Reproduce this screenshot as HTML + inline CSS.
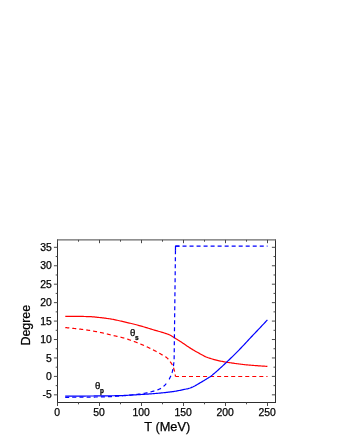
<!DOCTYPE html>
<html><head><meta charset="utf-8">
<style>
html,body{margin:0;padding:0;background:#fff;}
body{width:340px;height:440px;overflow:hidden;font-family:"Liberation Sans",sans-serif;}
svg{display:block;will-change:transform;}
text{font-family:"Liberation Sans",sans-serif;fill:#000;stroke:#000;stroke-width:0.25px;}
</style></head><body>
<svg width="340" height="440" viewBox="0 0 340 440">
<rect width="340" height="440" fill="#fff"/>
<g stroke="#2e2e2e" stroke-width="1" fill="none">
<line x1="57.5" y1="239.4" x2="57.5" y2="403.0"/>
<line x1="275.5" y1="239.4" x2="275.5" y2="403.0"/>
<line x1="57.0" y1="402.5" x2="276.0" y2="402.5"/>
<line x1="57.0" y1="239.9" x2="276.0" y2="239.9" stroke="#6a6a6a" stroke-width="1.4"/>
</g>
<g stroke="#4a4a4a" stroke-width="1">
<line x1="57.5" y1="402.5" x2="57.5" y2="406.0"/>
<line x1="57.5" y1="239.9" x2="57.5" y2="243.20000000000002"/>
<line x1="78.5" y1="402.5" x2="78.5" y2="404.3"/>
<line x1="78.5" y1="239.9" x2="78.5" y2="241.70000000000002"/>
<line x1="99.5" y1="402.5" x2="99.5" y2="406.0"/>
<line x1="99.5" y1="239.9" x2="99.5" y2="243.20000000000002"/>
<line x1="120.5" y1="402.5" x2="120.5" y2="404.3"/>
<line x1="120.5" y1="239.9" x2="120.5" y2="241.70000000000002"/>
<line x1="141.5" y1="402.5" x2="141.5" y2="406.0"/>
<line x1="141.5" y1="239.9" x2="141.5" y2="243.20000000000002"/>
<line x1="162.5" y1="402.5" x2="162.5" y2="404.3"/>
<line x1="162.5" y1="239.9" x2="162.5" y2="241.70000000000002"/>
<line x1="183.5" y1="402.5" x2="183.5" y2="406.0"/>
<line x1="183.5" y1="239.9" x2="183.5" y2="243.20000000000002"/>
<line x1="204.5" y1="402.5" x2="204.5" y2="404.3"/>
<line x1="204.5" y1="239.9" x2="204.5" y2="241.70000000000002"/>
<line x1="225.5" y1="402.5" x2="225.5" y2="406.0"/>
<line x1="225.5" y1="239.9" x2="225.5" y2="243.20000000000002"/>
<line x1="246.5" y1="402.5" x2="246.5" y2="404.3"/>
<line x1="246.5" y1="239.9" x2="246.5" y2="241.70000000000002"/>
<line x1="267.5" y1="402.5" x2="267.5" y2="406.0"/>
<line x1="267.5" y1="239.9" x2="267.5" y2="243.20000000000002"/>
<line x1="53.9" y1="394.84" x2="57.5" y2="394.84"/>
<line x1="271.9" y1="394.84" x2="275.5" y2="394.84"/>
<line x1="55.7" y1="385.62" x2="57.5" y2="385.62"/>
<line x1="273.5" y1="385.62" x2="275.5" y2="385.62"/>
<line x1="53.9" y1="376.4" x2="57.5" y2="376.4"/>
<line x1="271.9" y1="376.4" x2="275.5" y2="376.4"/>
<line x1="55.7" y1="367.18" x2="57.5" y2="367.18"/>
<line x1="273.5" y1="367.18" x2="275.5" y2="367.18"/>
<line x1="53.9" y1="357.96" x2="57.5" y2="357.96"/>
<line x1="271.9" y1="357.96" x2="275.5" y2="357.96"/>
<line x1="55.7" y1="348.74" x2="57.5" y2="348.74"/>
<line x1="273.5" y1="348.74" x2="275.5" y2="348.74"/>
<line x1="53.9" y1="339.52" x2="57.5" y2="339.52"/>
<line x1="271.9" y1="339.52" x2="275.5" y2="339.52"/>
<line x1="55.7" y1="330.3" x2="57.5" y2="330.3"/>
<line x1="273.5" y1="330.3" x2="275.5" y2="330.3"/>
<line x1="53.9" y1="321.08" x2="57.5" y2="321.08"/>
<line x1="271.9" y1="321.08" x2="275.5" y2="321.08"/>
<line x1="55.7" y1="311.86" x2="57.5" y2="311.86"/>
<line x1="273.5" y1="311.86" x2="275.5" y2="311.86"/>
<line x1="53.9" y1="302.64" x2="57.5" y2="302.64"/>
<line x1="271.9" y1="302.64" x2="275.5" y2="302.64"/>
<line x1="55.7" y1="293.42" x2="57.5" y2="293.42"/>
<line x1="273.5" y1="293.42" x2="275.5" y2="293.42"/>
<line x1="53.9" y1="284.2" x2="57.5" y2="284.2"/>
<line x1="271.9" y1="284.2" x2="275.5" y2="284.2"/>
<line x1="55.7" y1="274.98" x2="57.5" y2="274.98"/>
<line x1="273.5" y1="274.98" x2="275.5" y2="274.98"/>
<line x1="53.9" y1="265.76" x2="57.5" y2="265.76"/>
<line x1="271.9" y1="265.76" x2="275.5" y2="265.76"/>
<line x1="55.7" y1="256.54" x2="57.5" y2="256.54"/>
<line x1="273.5" y1="256.54" x2="275.5" y2="256.54"/>
<line x1="53.9" y1="247.32" x2="57.5" y2="247.32"/>
<line x1="271.9" y1="247.32" x2="275.5" y2="247.32"/>
</g>
<g font-size="10.4">
<text x="57.1" y="416.2" text-anchor="middle">0</text>
<text x="99.1" y="416.2" text-anchor="middle">50</text>
<text x="141.1" y="416.2" text-anchor="middle">100</text>
<text x="183.1" y="416.2" text-anchor="middle">150</text>
<text x="225.1" y="416.2" text-anchor="middle">200</text>
<text x="267.1" y="416.2" text-anchor="middle">250</text>
<text x="51.8" y="398.39" text-anchor="end">-5</text>
<text x="51.8" y="379.95" text-anchor="end">0</text>
<text x="51.8" y="361.51" text-anchor="end">5</text>
<text x="51.8" y="343.07" text-anchor="end">10</text>
<text x="51.8" y="324.63" text-anchor="end">15</text>
<text x="51.8" y="306.19" text-anchor="end">20</text>
<text x="51.8" y="287.75" text-anchor="end">25</text>
<text x="51.8" y="269.31" text-anchor="end">30</text>
<text x="51.8" y="250.87" text-anchor="end">35</text>
</g>
<g fill="none" stroke-width="1.2" stroke-linejoin="round">
<path stroke="#f00" d="M65.30,316.30 L66.30,316.30 L67.30,316.30 L68.30,316.31 L69.30,316.31 L70.30,316.31 L71.30,316.32 L72.30,316.32 L73.30,316.33 L74.30,316.34 L75.30,316.34 L76.30,316.35 L77.30,316.36 L78.30,316.37 L79.30,316.38 L80.30,316.40 L81.30,316.42 L82.30,316.43 L83.30,316.45 L84.30,316.48 L85.30,316.50 L86.30,316.53 L87.30,316.55 L88.30,316.58 L89.30,316.62 L90.30,316.66 L91.30,316.72 L92.30,316.80 L93.30,316.88 L94.30,316.97 L95.30,317.07 L96.30,317.17 L97.30,317.28 L98.30,317.39 L99.30,317.50 L100.30,317.61 L101.30,317.72 L102.30,317.83 L103.30,317.95 L104.30,318.07 L105.30,318.20 L106.30,318.33 L107.30,318.47 L108.30,318.62 L109.30,318.77 L110.30,318.92 L111.30,319.08 L112.30,319.25 L113.30,319.43 L114.30,319.63 L115.30,319.83 L116.30,320.05 L117.30,320.27 L118.30,320.50 L119.30,320.73 L120.30,320.97 L121.30,321.20 L122.30,321.43 L123.30,321.66 L124.30,321.89 L125.30,322.12 L126.30,322.35 L127.30,322.58 L128.30,322.81 L129.30,323.05 L130.30,323.29 L131.30,323.53 L132.30,323.77 L133.30,324.02 L134.30,324.27 L135.30,324.52 L136.30,324.77 L137.30,325.03 L138.30,325.30 L139.30,325.57 L140.30,325.84 L141.30,326.13 L142.30,326.42 L143.30,326.71 L144.30,327.01 L145.30,327.31 L146.30,327.62 L147.30,327.93 L148.30,328.24 L149.30,328.55 L150.30,328.86 L151.30,329.16 L152.30,329.47 L153.30,329.77 L154.30,330.07 L155.30,330.37 L156.30,330.66 L157.30,330.94 L158.30,331.22 L159.30,331.50 L160.30,331.79 L161.30,332.08 L162.30,332.37 L163.30,332.68 L164.30,333.00 L165.30,333.32 L166.30,333.65 L167.30,334.00 L168.30,334.38 L169.30,334.80 L170.30,335.29 L171.30,335.85 L172.30,336.46 L173.30,337.09 L174.30,337.72 L175.30,338.32 L176.30,338.93 L177.30,339.55 L178.30,340.17 L179.30,340.79 L180.30,341.43 L181.30,342.07 L182.30,342.73 L183.30,343.41 L184.30,344.10 L185.30,344.80 L186.30,345.49 L187.30,346.17 L188.30,346.83 L189.30,347.48 L190.30,348.12 L191.30,348.75 L192.30,349.37 L193.30,349.98 L194.30,350.58 L195.30,351.16 L196.30,351.73 L197.30,352.29 L198.30,352.84 L199.30,353.38 L200.30,353.92 L201.30,354.46 L202.30,355.01 L203.30,355.56 L204.30,356.10 L205.30,356.59 L206.30,357.02 L207.30,357.42 L208.30,357.78 L209.30,358.11 L210.30,358.44 L211.30,358.75 L212.30,359.05 L213.30,359.34 L214.30,359.61 L215.30,359.87 L216.30,360.13 L217.30,360.38 L218.30,360.62 L219.30,360.84 L220.30,361.06 L221.30,361.26 L222.30,361.45 L223.30,361.64 L224.30,361.81 L225.30,361.99 L226.30,362.15 L227.30,362.31 L228.30,362.47 L229.30,362.62 L230.30,362.77 L231.30,362.92 L232.30,363.06 L233.30,363.20 L234.30,363.34 L235.30,363.48 L236.30,363.61 L237.30,363.74 L238.30,363.88 L239.30,364.01 L240.30,364.14 L241.30,364.26 L242.30,364.39 L243.30,364.51 L244.30,364.62 L245.30,364.73 L246.30,364.83 L247.30,364.93 L248.30,365.02 L249.30,365.11 L250.30,365.19 L251.30,365.27 L252.30,365.35 L253.30,365.43 L254.30,365.50 L255.30,365.58 L256.30,365.65 L257.30,365.72 L258.30,365.79 L259.30,365.86 L260.30,365.93 L261.30,365.99 L262.30,366.05 L263.30,366.12 L264.30,366.18 L265.30,366.23 L266.30,366.29 L267.30,366.34 L267.40,366.35"/>
<path stroke="#f00" stroke-dasharray="4,3.007" stroke-dashoffset="2" d="M175.50,376.50 L175.44,376.08 L175.38,375.65 L175.31,375.23 L175.24,374.80 L175.17,374.38 L175.09,373.96 L175.01,373.54 L174.92,373.12 L174.84,372.70 L174.75,372.28 L174.65,371.86 L174.55,371.45 L174.45,371.03 L174.35,370.61 L174.24,370.20 L174.13,369.79 L174.01,369.37 L173.89,368.96 L173.77,368.56 L173.64,368.14 L173.50,367.73 L173.37,367.32 L173.22,366.92 L173.07,366.52 L172.91,366.12 L172.74,365.72 L172.57,365.34 L172.38,364.96 L172.17,364.59 L171.95,364.23 L171.72,363.87 L171.47,363.51 L171.22,363.16 L170.97,362.81 L170.72,362.46 L170.47,362.11 L170.21,361.76 L169.96,361.41 L169.71,361.06 L169.45,360.71 L169.19,360.36 L168.93,360.01 L168.66,359.67 L168.39,359.34 L168.11,359.01 L167.82,358.70 L167.53,358.40 L167.22,358.11 L166.91,357.84 L166.58,357.58 L166.23,357.33 L165.88,357.09 L165.51,356.86 L165.14,356.63 L164.77,356.41 L164.40,356.19 L164.03,355.96 L163.67,355.73 L163.30,355.51 L162.94,355.29 L162.57,355.08 L162.20,354.86 L161.83,354.65 L161.45,354.43 L161.08,354.22 L160.71,354.01 L160.34,353.79 L159.97,353.58 L159.60,353.37 L159.22,353.15 L158.85,352.94 L158.48,352.73 L158.11,352.51 L157.74,352.30 L157.36,352.09 L156.99,351.88 L156.61,351.68 L156.24,351.47 L155.86,351.27 L155.48,351.07 L155.10,350.87 L154.72,350.68 L154.34,350.48 L153.96,350.28 L153.58,350.09 L153.20,349.89 L152.82,349.70 L152.43,349.50 L152.05,349.31 L151.67,349.12 L151.28,348.93 L150.90,348.74 L150.51,348.55 L150.13,348.36 L149.74,348.18 L149.35,347.99 L148.97,347.81 L148.58,347.62 L148.19,347.44 L147.81,347.26 L147.42,347.08 L147.03,346.90 L146.64,346.72 L146.25,346.54 L145.86,346.36 L145.47,346.19 L145.08,346.01 L144.69,345.84 L144.30,345.66 L143.91,345.49 L143.51,345.32 L143.12,345.15 L142.73,344.98 L142.34,344.81 L141.94,344.64 L141.55,344.47 L141.15,344.30 L140.76,344.13 L140.36,343.97 L139.97,343.80 L139.57,343.64 L139.17,343.48 L138.78,343.32 L138.38,343.16 L137.98,343.00 L137.58,342.84 L137.18,342.68 L136.79,342.52 L136.39,342.37 L135.99,342.21 L135.59,342.06 L135.19,341.91 L134.79,341.76 L134.39,341.61 L133.98,341.46 L133.58,341.31 L133.18,341.16 L132.78,341.01 L132.38,340.86 L131.97,340.71 L131.57,340.57 L131.17,340.42 L130.76,340.27 L130.36,340.13 L129.96,339.99 L129.55,339.85 L129.15,339.71 L128.74,339.57 L128.33,339.43 L127.93,339.29 L127.52,339.16 L127.11,339.03 L126.70,338.90 L126.30,338.77 L125.89,338.64 L125.48,338.52 L125.07,338.39 L124.66,338.27 L124.25,338.16 L123.84,338.04 L123.42,337.93 L123.01,337.82 L122.60,337.71 L122.18,337.60 L121.77,337.49 L121.36,337.39 L120.94,337.28 L120.52,337.18 L120.11,337.08 L119.69,336.98 L119.27,336.88 L118.86,336.78 L118.44,336.69 L118.02,336.59 L117.60,336.49 L117.19,336.40 L116.77,336.30 L116.35,336.21 L115.93,336.11 L115.51,336.02 L115.09,335.92 L114.68,335.83 L114.26,335.73 L113.84,335.63 L113.42,335.54 L113.00,335.44 L112.59,335.34 L112.17,335.24 L111.75,335.14 L111.34,335.04 L110.92,334.94 L110.51,334.84 L110.09,334.73 L109.67,334.63 L109.26,334.53 L108.84,334.42 L108.43,334.32 L108.01,334.22 L107.59,334.11 L107.18,334.01 L106.76,333.91 L106.35,333.81 L105.93,333.70 L105.51,333.60 L105.10,333.50 L104.68,333.40 L104.26,333.31 L103.85,333.21 L103.43,333.11 L103.01,333.02 L102.59,332.93 L102.17,332.84 L101.76,332.75 L101.34,332.66 L100.92,332.57 L100.50,332.48 L100.08,332.39 L99.66,332.31 L99.24,332.22 L98.82,332.13 L98.40,332.05 L97.98,331.96 L97.56,331.88 L97.14,331.80 L96.72,331.71 L96.30,331.63 L95.88,331.55 L95.46,331.47 L95.04,331.39 L94.61,331.31 L94.19,331.23 L93.77,331.16 L93.35,331.08 L92.93,331.01 L92.51,330.93 L92.08,330.86 L91.66,330.79 L91.24,330.72 L90.82,330.65 L90.39,330.58 L89.97,330.52 L89.55,330.45 L89.13,330.38 L88.70,330.32 L88.28,330.26 L87.86,330.19 L87.43,330.13 L87.01,330.07 L86.58,330.01 L86.16,329.95 L85.73,329.89 L85.31,329.83 L84.89,329.77 L84.46,329.71 L84.04,329.65 L83.61,329.60 L83.19,329.54 L82.76,329.49 L82.34,329.43 L81.91,329.38 L81.49,329.32 L81.06,329.27 L80.64,329.22 L80.21,329.16 L79.79,329.11 L79.36,329.06 L78.93,329.01 L78.51,328.96 L78.08,328.91 L77.66,328.86 L77.23,328.81 L76.81,328.76 L76.38,328.71 L75.96,328.67 L75.53,328.62 L75.11,328.57 L74.68,328.52 L74.25,328.48 L73.83,328.43 L73.40,328.38 L72.98,328.34 L72.55,328.29 L72.12,328.25 L71.70,328.21 L71.27,328.16 L70.85,328.12 L70.42,328.08 L69.99,328.03 L69.57,327.99 L69.14,327.95 L68.71,327.91 L68.29,327.87 L67.86,327.83 L67.43,327.79 L67.01,327.75 L66.58,327.71 L66.15,327.67 L65.73,327.64 L65.30,327.60"/>
<path stroke="#f00" stroke-dasharray="4,3.03" stroke-dashoffset="0.55" d="M175.5,376.5 L267.5,376.5"/>
<path stroke="#00f" d="M65.20,396.10 L66.20,396.10 L67.20,396.10 L68.20,396.10 L69.20,396.09 L70.20,396.09 L71.20,396.09 L72.20,396.09 L73.20,396.08 L74.20,396.08 L75.20,396.08 L76.20,396.07 L77.20,396.07 L78.20,396.06 L79.20,396.06 L80.20,396.05 L81.20,396.05 L82.20,396.04 L83.20,396.04 L84.20,396.03 L85.20,396.03 L86.20,396.02 L87.20,396.02 L88.20,396.01 L89.20,396.00 L90.20,396.00 L91.20,395.99 L92.20,395.99 L93.20,395.98 L94.20,395.97 L95.20,395.96 L96.20,395.96 L97.20,395.95 L98.20,395.94 L99.20,395.93 L100.20,395.92 L101.20,395.91 L102.20,395.90 L103.20,395.89 L104.20,395.87 L105.20,395.86 L106.20,395.85 L107.20,395.84 L108.20,395.82 L109.20,395.81 L110.20,395.80 L111.20,395.78 L112.20,395.77 L113.20,395.75 L114.20,395.73 L115.20,395.71 L116.20,395.69 L117.20,395.67 L118.20,395.65 L119.20,395.62 L120.20,395.59 L121.20,395.56 L122.20,395.53 L123.20,395.49 L124.20,395.45 L125.20,395.40 L126.20,395.35 L127.20,395.30 L128.20,395.25 L129.20,395.20 L130.20,395.14 L131.20,395.08 L132.20,395.02 L133.20,394.96 L134.20,394.90 L135.20,394.84 L136.20,394.78 L137.20,394.72 L138.20,394.66 L139.20,394.61 L140.20,394.55 L141.20,394.49 L142.20,394.42 L143.20,394.36 L144.20,394.30 L145.20,394.24 L146.20,394.17 L147.20,394.10 L148.20,394.03 L149.20,393.96 L150.20,393.89 L151.20,393.82 L152.20,393.75 L153.20,393.67 L154.20,393.59 L155.20,393.51 L156.20,393.42 L157.20,393.34 L158.20,393.25 L159.20,393.16 L160.20,393.06 L161.20,392.96 L162.20,392.86 L163.20,392.76 L164.20,392.65 L165.20,392.54 L166.20,392.43 L167.20,392.31 L168.20,392.19 L169.20,392.07 L170.20,391.95 L171.20,391.82 L172.20,391.68 L173.20,391.54 L174.20,391.39 L175.20,391.23 L176.20,391.07 L177.20,390.89 L178.20,390.71 L179.20,390.51 L180.20,390.31 L181.20,390.10 L182.20,389.89 L183.20,389.67 L184.20,389.46 L185.20,389.24 L186.20,389.03 L187.20,388.80 L188.20,388.55 L189.20,388.27 L190.20,387.97 L191.20,387.60 L192.20,387.17 L193.20,386.70 L194.20,386.20 L195.20,385.69 L196.20,385.15 L197.20,384.57 L198.20,383.97 L199.20,383.38 L200.20,382.79 L201.20,382.21 L202.20,381.62 L203.20,381.03 L204.20,380.43 L205.20,379.82 L206.20,379.21 L207.20,378.60 L208.20,377.98 L209.20,377.33 L210.20,376.66 L211.20,375.93 L212.20,375.15 L213.20,374.33 L214.20,373.48 L215.20,372.61 L216.20,371.72 L217.20,370.83 L218.20,369.95 L219.20,369.06 L220.20,368.15 L221.20,367.24 L222.20,366.32 L223.20,365.39 L224.20,364.46 L225.20,363.52 L226.20,362.58 L227.20,361.63 L228.20,360.68 L229.20,359.72 L230.20,358.76 L231.20,357.79 L232.20,356.81 L233.20,355.83 L234.20,354.84 L235.20,353.85 L236.20,352.85 L237.20,351.84 L238.20,350.83 L239.20,349.81 L240.20,348.78 L241.20,347.74 L242.20,346.70 L243.20,345.65 L244.20,344.59 L245.20,343.51 L246.20,342.42 L247.20,341.33 L248.20,340.24 L249.20,339.16 L250.20,338.09 L251.20,337.03 L252.20,335.97 L253.20,334.92 L254.20,333.88 L255.20,332.83 L256.20,331.79 L257.20,330.74 L258.20,329.70 L259.20,328.65 L260.20,327.59 L261.20,326.53 L262.20,325.46 L263.20,324.40 L264.20,323.33 L265.20,322.26 L266.20,321.19 L267.20,320.11 L267.40,319.90"/>
<path stroke="#00f" stroke-dasharray="4,3.14" d="M65.20,397.30 L65.64,397.30 L66.08,397.30 L66.52,397.30 L66.95,397.30 L67.39,397.30 L67.83,397.30 L68.27,397.30 L68.71,397.29 L69.15,397.29 L69.58,397.29 L70.02,397.29 L70.46,397.29 L70.90,397.29 L71.34,397.28 L71.78,397.28 L72.21,397.28 L72.65,397.28 L73.09,397.27 L73.53,397.27 L73.97,397.27 L74.41,397.26 L74.84,397.26 L75.28,397.26 L75.72,397.25 L76.16,397.25 L76.60,397.25 L77.04,397.24 L77.47,397.24 L77.91,397.24 L78.35,397.23 L78.79,397.23 L79.23,397.22 L79.67,397.22 L80.10,397.21 L80.54,397.21 L80.98,397.21 L81.42,397.20 L81.86,397.20 L82.30,397.19 L82.73,397.19 L83.17,397.18 L83.61,397.18 L84.05,397.17 L84.49,397.17 L84.93,397.16 L85.36,397.16 L85.80,397.15 L86.24,397.15 L86.68,397.14 L87.12,397.14 L87.56,397.13 L87.99,397.12 L88.43,397.12 L88.87,397.11 L89.31,397.11 L89.75,397.10 L90.19,397.10 L90.62,397.09 L91.06,397.09 L91.50,397.08 L91.94,397.07 L92.38,397.07 L92.82,397.06 L93.25,397.05 L93.69,397.05 L94.13,397.04 L94.57,397.03 L95.01,397.02 L95.45,397.01 L95.88,397.00 L96.32,397.00 L96.76,396.99 L97.20,396.98 L97.64,396.97 L98.08,396.96 L98.51,396.95 L98.95,396.94 L99.39,396.93 L99.83,396.92 L100.27,396.90 L100.71,396.89 L101.14,396.88 L101.58,396.87 L102.02,396.86 L102.46,396.85 L102.90,396.83 L103.33,396.82 L103.77,396.81 L104.21,396.79 L104.65,396.78 L105.09,396.77 L105.53,396.75 L105.96,396.74 L106.40,396.73 L106.84,396.71 L107.28,396.70 L107.72,396.68 L108.15,396.67 L108.59,396.65 L109.03,396.64 L109.47,396.62 L109.91,396.60 L110.34,396.59 L110.78,396.57 L111.22,396.55 L111.66,396.53 L112.09,396.51 L112.53,396.49 L112.97,396.46 L113.41,396.44 L113.85,396.41 L114.28,396.39 L114.72,396.36 L115.16,396.33 L115.60,396.31 L116.03,396.28 L116.47,396.25 L116.91,396.22 L117.35,396.19 L117.78,396.16 L118.22,396.13 L118.66,396.10 L119.10,396.07 L119.53,396.03 L119.97,396.00 L120.41,395.97 L120.84,395.94 L121.28,395.90 L121.72,395.87 L122.15,395.84 L122.59,395.80 L123.03,395.77 L123.47,395.73 L123.90,395.70 L124.34,395.66 L124.78,395.62 L125.21,395.58 L125.65,395.55 L126.09,395.51 L126.52,395.47 L126.96,395.43 L127.40,395.39 L127.83,395.35 L128.27,395.31 L128.71,395.26 L129.14,395.22 L129.58,395.18 L130.02,395.14 L130.45,395.09 L130.89,395.05 L131.33,395.00 L131.76,394.96 L132.20,394.91 L132.63,394.87 L133.07,394.82 L133.51,394.77 L133.94,394.72 L134.38,394.67 L134.81,394.63 L135.25,394.58 L135.68,394.53 L136.12,394.48 L136.55,394.42 L136.99,394.37 L137.42,394.32 L137.86,394.27 L138.29,394.21 L138.73,394.16 L139.16,394.10 L139.60,394.05 L140.03,393.99 L140.47,393.93 L140.90,393.87 L141.34,393.80 L141.77,393.74 L142.20,393.67 L142.64,393.60 L143.07,393.53 L143.50,393.46 L143.93,393.39 L144.37,393.31 L144.80,393.24 L145.23,393.16 L145.66,393.08 L146.09,392.99 L146.51,392.90 L146.94,392.81 L147.37,392.71 L147.80,392.62 L148.23,392.51 L148.65,392.41 L149.08,392.31 L149.51,392.20 L149.93,392.09 L150.36,391.98 L150.78,391.87 L151.20,391.76 L151.63,391.65 L152.05,391.53 L152.47,391.42 L152.90,391.31 L153.33,391.19 L153.76,391.08 L154.18,390.96 L154.61,390.84 L155.04,390.72 L155.46,390.59 L155.89,390.46 L156.31,390.33 L156.72,390.19 L157.14,390.05 L157.54,389.91 L157.95,389.75 L158.35,389.59 L158.74,389.43 L159.13,389.25 L159.52,389.06 L159.91,388.86 L160.29,388.65 L160.67,388.42 L161.05,388.19 L161.43,387.95 L161.80,387.70 L162.16,387.44 L162.52,387.18 L162.88,386.91 L163.22,386.63 L163.56,386.36 L163.89,386.08 L164.22,385.80 L164.53,385.50 L164.84,385.20 L165.14,384.88 L165.44,384.55 L165.73,384.22 L166.02,383.88 L166.29,383.53 L166.56,383.18 L166.83,382.83 L167.09,382.48 L167.34,382.13 L167.59,381.77 L167.84,381.40"/>
<path stroke="#00f" stroke-dasharray="4,3.0" d="M175.47,250.20 L174.15,358.00 L174.14,358.44 L174.12,358.88 L174.10,359.32 L174.07,359.76 L174.05,360.20 L174.02,360.64 L173.98,361.07 L173.94,361.51 L173.90,361.95 L173.86,362.38 L173.82,362.82 L173.77,363.26 L173.72,363.69 L173.68,364.13 L173.62,364.56 L173.57,364.99 L173.52,365.43 L173.47,365.86 L173.41,366.29 L173.35,366.73 L173.28,367.16 L173.20,367.60 L173.13,368.03 L173.04,368.46 L172.96,368.90 L172.87,369.33 L172.77,369.76 L172.67,370.19 L172.57,370.61 L172.47,371.04 L172.36,371.46 L172.25,371.89 L172.13,372.30 L172.02,372.72 L171.89,373.14 L171.75,373.55 L171.61,373.96 L171.45,374.37 L171.29,374.78 L171.12,375.19 L170.95,375.60 L170.77,376.00 L170.58,376.40 L170.39,376.80 L170.20,377.20 L170.01,377.59 L169.81,377.98 L169.61,378.37 L169.41,378.76 L169.21,379.14 L168.99,379.53 L168.77,379.91 L168.55,380.29 L168.32,380.66 L168.08,381.04 L167.84,381.40"/>
<path stroke="#00f" d="M175.47,250.6 L175.5,246.2 L179.4,246.2"/>
<path stroke="#00f" stroke-dasharray="4,3.02" d="M175.5,246.2 L267.5,246.2"/>
</g>
<g stroke="none"><text x="130.1" y="335.7" font-size="9.6" fill="#2a2a2a" stroke="none">θ</text><text x="135" y="340.0" font-size="6.6" font-weight="bold" fill="#111" stroke="none">s</text>
<text x="94.9" y="389.3" font-size="9.6" fill="#2a2a2a" stroke="none">θ</text><text x="99.9" y="392.9" font-size="6.4" font-weight="bold" fill="#111" stroke="none">p</text></g>
<text x="167.3" y="431.3" font-size="12.8" text-anchor="middle">T (MeV)</text>
<text transform="translate(30.3,325.2) rotate(-90)" font-size="12.45" text-anchor="middle">Degree</text>
</svg>
</body></html>
